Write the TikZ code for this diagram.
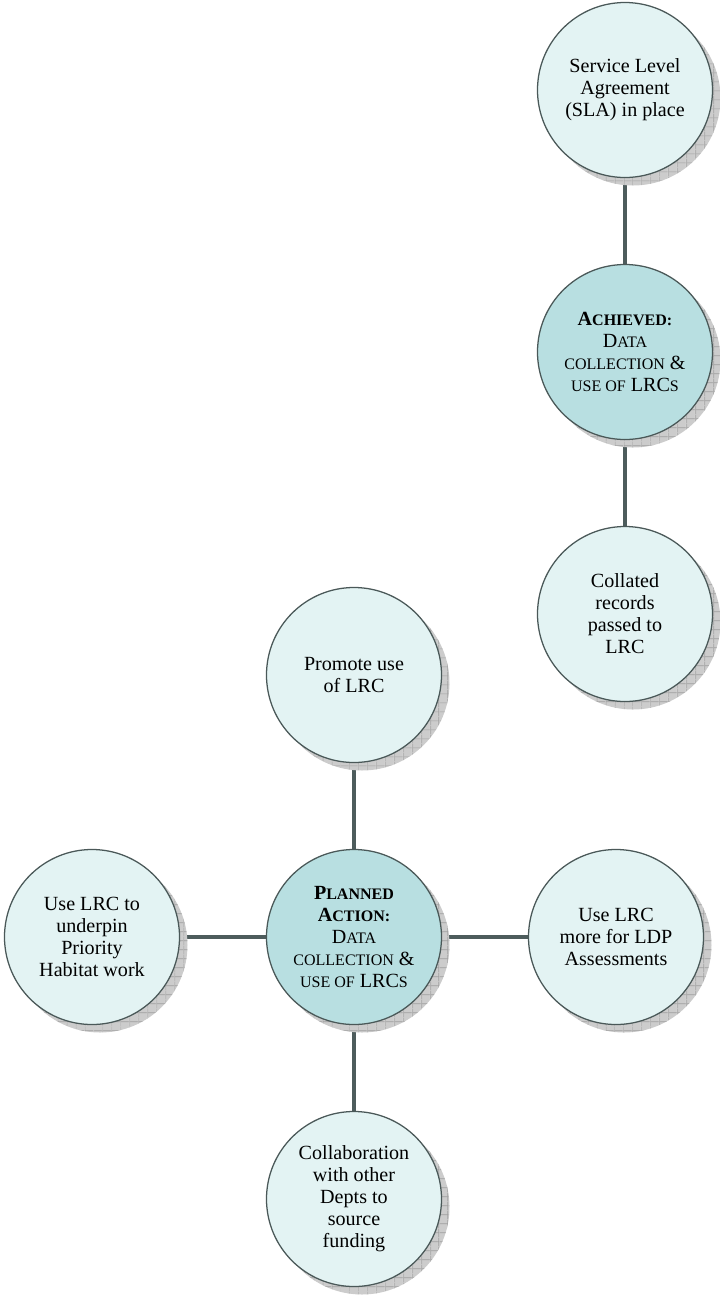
\documentclass[tikz,border=0pt]{standalone}
\usepackage{fontspec}
\setmainfont{Liberation Serif}
\usetikzlibrary{positioning, shadows, patterns.meta, backgrounds}

\definecolor{leaffill}{HTML}{E3F3F3}
\definecolor{hubfill}{HTML}{B8DFE1}
\definecolor{rimgray}{HTML}{4A5858}
\definecolor{linkgray}{HTML}{4D5C5C}

\newcommand{\nodefont}{\fontsize{14.3}{15.6}\selectfont}
\newcommand{\lowcap}[1]{{\fontsize{11.4}{15.6}\selectfont #1}}

\tikzset{
  shade off/.style={general shadow={shadow xshift=0.2cm, shadow yshift=-0.2cm, fill=gray!40},
    general shadow={shadow xshift=0.2cm, shadow yshift=-0.2cm, pattern={Lines[distance=6.5pt, line width=0.5pt]}, pattern color=gray!75},
    general shadow={shadow xshift=0.2cm, shadow yshift=-0.2cm, pattern={Lines[angle=90, distance=6.5pt, line width=0.5pt]}, pattern color=gray!75}},
  leaf/.style={circle, draw=rimgray, line width=0.9pt, fill=leaffill, minimum size=4.375cm, inner sep=0pt, align=center, font=\nodefont, shade off},
  hub/.style={leaf, fill=hubfill},
  link/.style={draw=linkgray, line width=3.5pt}
}

\begin{document}
\begin{tikzpicture}[node distance = 6.55cm, on grid]
  \useasboundingbox (0,0) rectangle (17.975,-32.375);
  % achieved branch
  \node[hub] (achieved) at (15.625,-8.8) {\textbf{A\lowcap{CHIEVED:}}\\ D\lowcap{ATA}\\ \lowcap{COLLECTION} \&\\ \lowcap{USE OF} LRC\lowcap{S}};
  \node[leaf] (sla) [above=of achieved] {Service Level\\ Agreement\\ (SLA) in place};
  \node[leaf] (collated) [below=of achieved] {Collated\\ records\\ passed to\\ LRC};
  % planned branch
  \node[hub] (planned) at (8.85,-23.425) {\textbf{P\lowcap{LANNED}}\\ \textbf{A\lowcap{CTION:}}\\ D\lowcap{ATA}\\ \lowcap{COLLECTION} \&\\ \lowcap{USE OF} LRC\lowcap{S}};
  \node[leaf] (promote) [above=of planned] {Promote use\\ of LRC};
  \node[leaf] (habitat) [left=of planned] {Use LRC to\\ underpin\\ Priority\\ Habitat work};
  \node[leaf] (ldp) [right=of planned] {Use LRC\\ more for LDP\\ Assessments};
  \node[leaf] (funding) [below=of planned] {Collaboration\\ with other\\ Depts to\\ source\\ funding};
  \begin{pgfonlayer}{background}
    \draw[link] (achieved) -- (sla);
    \draw[link] (achieved) -- (collated);
    \draw[link] (planned) -- (promote);
    \draw[link] (planned) -- (habitat);
    \draw[link] (planned) -- (ldp);
    \draw[link] (planned) -- (funding);
  \end{pgfonlayer}
\end{tikzpicture}
\end{document}
